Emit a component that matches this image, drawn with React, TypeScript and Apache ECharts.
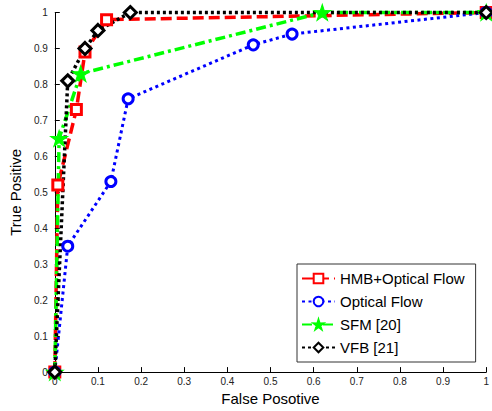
import React, { useEffect, useRef } from "react";
import * as echarts from "echarts";

const seriesNames = ["HMB+Optical Flow", "Optical Flow", "SFM [20]", "VFB [21]"];
const hmbX = [0, 0.007, 0.05, 0.07, 0.12, 1];
const hmbY = [0, 0.52, 0.73, 0.89, 0.98, 1];
const ofX = [0, 0.03, 0.13, 0.17, 0.46, 0.55, 1];
const ofY = [0, 0.35, 0.53, 0.76, 0.91, 0.94, 1];
const sfmX = [0, 0.01, 0.06, 0.62, 1];
const sfmY = [0, 0.65, 0.83, 1, 1];
const vfbX = [0, 0.03, 0.07, 0.1, 0.175, 1];
const vfbY = [0, 0.81, 0.9, 0.95, 1, 1];

const STAR =
  "path://M0,-100 L22.3,-30.7 L95.1,-30.9 L36.1,11.7 L58.8,80.9 L0,38 L-58.8,80.9 L-36.1,11.7 L-95.1,-30.9 L-22.3,-30.7 Z";

const zip = (xs: number[], ys: number[]) => xs.map((x, i) => [x, ys[i]]);

export default function App() {
  const ref = useRef<HTMLDivElement>(null);
  useEffect(() => {
    if (!ref.current) return;
    const chart = echarts.init(ref.current, undefined, { renderer: "svg" });
    const font = "Arial, 'Liberation Sans', sans-serif";
    const axisCommon = {
      type: "value" as const,
      min: 0,
      max: 1,
      interval: 0.1,
      splitLine: { show: false },
      axisLine: { show: true, lineStyle: { color: "#000", width: 1 } },
      axisTick: { show: true, inside: true, length: 5, lineStyle: { color: "#000" } },
      axisLabel: { color: "#222", fontSize: 10, fontFamily: font },
      nameTextStyle: { color: "#000", fontSize: 15, fontFamily: font },
      nameLocation: "middle" as const,
    };
    chart.setOption({
      animation: false,
      backgroundColor: "#fff",
      grid: { left: 52, right: 2, top: 12.5, bottom: 32, containLabel: false },
      xAxis: { ...axisCommon, name: "False Posotive", nameGap: 17, axisLabel: { ...axisCommon.axisLabel, margin: 4 } },
      yAxis: { ...axisCommon, name: "True Positive", nameGap: 28, axisLabel: { ...axisCommon.axisLabel, margin: 7 } },
      legend: {
        left: 297,
        top: 264,
        orient: "vertical",
        data: seriesNames,
        itemWidth: 33,
        itemHeight: 12,
        itemGap: 8,
        padding: [7, 11, 7, 4],
        borderColor: "#333",
        borderWidth: 1,
        backgroundColor: "#fff",
        textStyle: { color: "#000", fontSize: 15, fontFamily: font },
      },
      series: [
        {
          name: seriesNames[0],
          type: "line",
          data: zip(hmbX, hmbY),
          clip: false,
          symbol: "rect",
          symbolSize: 10,
          lineStyle: { color: "#ff0000", width: 3.5, type: [11, 5] },
          itemStyle: { color: "#fff", borderColor: "#ff0000", borderWidth: 3 },
          color: "#ff0000",
        },
        {
          name: seriesNames[1],
          type: "line",
          data: zip(ofX, ofY),
          clip: false,
          symbol: "circle",
          symbolSize: 10,
          lineStyle: { color: "#0000ff", width: 3, type: [3, 3.5] },
          itemStyle: { color: "#fff", borderColor: "#0000ff", borderWidth: 3 },
          color: "#0000ff",
        },
        {
          name: seriesNames[2],
          type: "line",
          data: zip(sfmX, sfmY),
          clip: false,
          symbol: STAR,
          symbolSize: [17, 16],
          lineStyle: { color: "#00ff00", width: 3.5, type: [10, 4, 3, 4] },
          itemStyle: { color: "#00ff00", borderColor: "#00ff00", borderWidth: 1 },
          color: "#00ff00",
        },
        {
          name: seriesNames[3],
          type: "line",
          data: zip(vfbX, vfbY),
          clip: false,
          symbol: "diamond",
          symbolSize: 12,
          lineStyle: { color: "#000", width: 3.5, type: [3, 3] },
          itemStyle: { color: "#fff", borderColor: "#000", borderWidth: 3 },
          color: "#000",
        },
      ],
    });
    return () => chart.dispose();
  }, []);
  return <div ref={ref} style={{ width: 492, height: 411, position: "absolute", left: 0, top: 0 }} />;
}
